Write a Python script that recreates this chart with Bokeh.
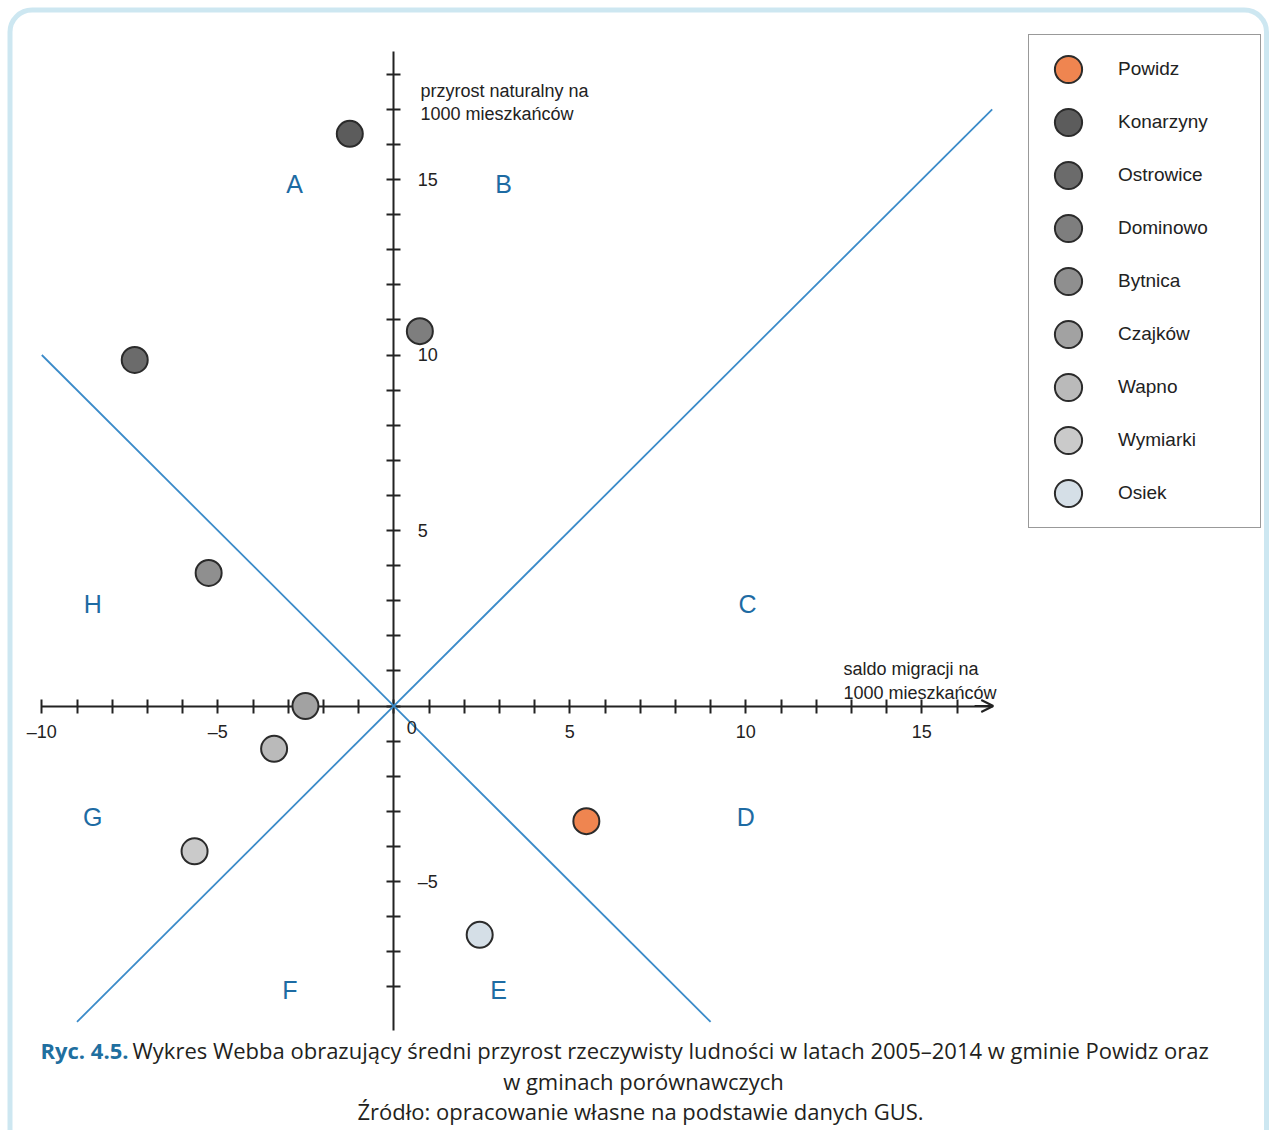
from bokeh.plotting import figure
from bokeh.models import (Range1d, LinearAxis, FixedTicker, Legend, LegendItem, Label,
                          BoxAnnotation, Arrow, OpenHead, ColumnDataSource)
from bokeh.core.properties import value
from bokeh.embed import file_html
from bokeh.resources import INLINE

# ---------------- data ----------------
names = ["Powidz", "Konarzyny", "Ostrowice", "Dominowo", "Bytnica",
         "Czajków", "Wapno", "Wymiarki", "Osiek"]
migration = [5.47, -1.25, -7.36, 0.74, -5.26, -2.51, -3.40, -5.66, 2.44]   # saldo migracji
natural = [-3.28, 16.30, 9.86, 10.68, 3.79, 0.0, -1.22, -4.14, -6.52]       # przyrost naturalny
colors = ["#ef8550", "#5c5c5c", "#6b6b6b", "#7e7e7e", "#8f8f8f",
          "#a2a2a2", "#bababa", "#cacaca", "#d5dfe7"]

x_ticks = list(range(-10, 17))
y_ticks = list(range(-8, 19))
x_tick_labels = {-10: "–10", -5: "–5", 5: "5", 10: "10", 15: "15"}
y_tick_labels = {-5: "–5", 5: "5", 10: "10", 15: "15"}

quadrants = ["A", "B", "C", "D", "E", "F", "G", "H"]
quad_x = [-2.82, 3.12, 10.05, 10.0, 2.98, -2.95, -8.55, -8.55]
quad_y = [14.88, 14.88, 2.9, -3.15, -8.1, -8.1, -3.15, 2.9]

diag_up_x = [-9, 17]
diag_up_y = [-9, 17]
diag_down_x = [-10, 9]
diag_down_y = [10, -9]

# ---------------- layout helpers (picture px -> data) ----------------
W, H = 1271, 1130
SX, SY = 35.2, 35.1
OX, OY = 393.3, 705.5          # origin in canvas px
x0 = -OX / SX
x1 = (W - OX) / SX
y1 = OY / SY
y0 = -(H - OY) / SY


def X(px):
    return (px - OX) / SX


def Y(py):
    return (OY - py) / SY


p = figure(width=W, height=H, x_range=Range1d(x0, x1), y_range=Range1d(y0, y1),
           output_backend="svg", toolbar_location=None,
           x_axis_type=None, y_axis_type=None, min_border=0,
           outline_line_color=None, background_fill_color="white",
           border_fill_color="white")
p.min_border_left = p.min_border_right = p.min_border_top = p.min_border_bottom = 0

AX = "#222222"
LBL_FONT = "Liberation Sans"

# rounded frame
frame = BoxAnnotation(left=X(9.5), right=X(1266), top=Y(9.5), bottom=Y(1160),
                      fill_alpha=0, line_color="#5aaed2", line_width=5,
                      border_radius=22, level="underlay")
p.add_layout(frame)

# axes crossing at origin
xaxis = LinearAxis(fixed_location=0,
                   ticker=FixedTicker(ticks=x_ticks, minor_ticks=[]),
                   major_label_overrides={t: x_tick_labels.get(t, "") for t in x_ticks},
                   bounds=(-10, 17), axis_line_width=2, axis_line_color=AX,
                   major_tick_in=7, major_tick_out=7, major_tick_line_width=2,
                   major_tick_line_color=AX, major_label_standoff=9,
                   major_label_text_font=LBL_FONT, major_label_text_font_size="18px",
                   major_label_text_color=AX, level="underlay")
p.add_layout(xaxis, "below")

yaxis = LinearAxis(fixed_location=0,
                   ticker=FixedTicker(ticks=y_ticks, minor_ticks=[]),
                   major_label_overrides={t: y_tick_labels.get(t, "") for t in y_ticks},
                   bounds=(-9.25, 18.65), axis_line_width=2, axis_line_color=AX,
                   major_tick_in=7, major_tick_out=7, major_tick_line_width=2,
                   major_tick_line_color=AX, major_label_standoff=17,
                   major_label_text_font=LBL_FONT, major_label_text_font_size="18px",
                   major_label_text_color=AX, level="underlay")
p.add_layout(yaxis, "right")

p.add_layout(Label(x=0, y=0, text="0", x_offset=18, y_offset=-21,
                   text_align="center", text_baseline="middle",
                   text_font=LBL_FONT, text_font_size="18px", text_color=AX))

p.add_layout(Arrow(end=OpenHead(size=12, line_width=2, line_color=AX),
                   x_start=16.5, y_start=0, x_end=17.03, y_end=0,
                   line_width=2, line_color=AX))

# axis titles
for txt, px, py in [("przyrost naturalny na", 420, 90), ("1000 mieszkańców", 420, 113),
                    ("saldo migracji na", 843, 668), ("1000 mieszkańców", 843, 692)]:
    p.add_layout(Label(x=X(px), y=Y(py), text=txt, text_align="left",
                       text_baseline="alphabetic", text_font=LBL_FONT,
                       text_font_size="18px", text_color=AX))

# Webb diagonals
p.line(diag_up_x, diag_up_y, line_color="#3b8bc9", line_width=1.8)
p.line(diag_down_x, diag_down_y, line_color="#3b8bc9", line_width=1.8)

# quadrant letters
p.text(x=quad_x, y=quad_y, text=quadrants, text_font=value(LBL_FONT),
       text_font_size="25px", text_align="center", text_baseline="middle",
       text_color="#1d6ba3")

# points (circles of fixed screen diameter)
src = ColumnDataSource(dict(x=migration, y=natural, name=names, color=colors))
r = p.ellipse(x="x", y="y", width=26, height=26, width_units="screen",
              height_units="screen", source=src, fill_color="color",
              line_color="#2b2b2b", line_width=2)

legend = Legend(items=[LegendItem(label=n, renderers=[r], index=i) for i, n in enumerate(names)],
                location=(1028, 602), glyph_width=44, glyph_height=34, spacing=19,
                padding=17, margin=0, label_standoff=28, label_width=125,
                label_text_font=LBL_FONT, label_text_font_size="19px",
                label_text_color=AX, border_line_color="#333333",
                border_line_width=1.5, background_fill_color="white",
                background_fill_alpha=1)
p.add_layout(legend)

# caption
CAP_FONT = "Open Sans"
CAP_SIZE = "22px"
p.add_layout(Label(x=X(40), y=Y(1049), text="Ryc. 4.5.", text_align="left",
                   text_baseline="middle", text_font=CAP_FONT, text_font_style="bold",
                   text_font_size=CAP_SIZE, text_color="#1f6f9f"))
p.add_layout(Label(x=X(132), y=Y(1049),
                   text="Wykres Webba obrazujący średni przyrost rzeczywisty ludności w latach 2005–2014 w gminie Powidz oraz",
                   text_align="left", text_baseline="middle", text_font=CAP_FONT,
                   text_font_size=CAP_SIZE, text_color="#231f20"))
p.add_layout(Label(x=X(643), y=Y(1080), text="w gminach porównawczych",
                   text_align="center", text_baseline="middle", text_font=CAP_FONT,
                   text_font_size=CAP_SIZE, text_color="#231f20"))
p.add_layout(Label(x=X(640), y=Y(1110),
                   text="Źródło: opracowanie własne na podstawie danych GUS.",
                   text_align="center", text_baseline="middle", text_font=CAP_FONT,
                   text_font_size=CAP_SIZE, text_color="#231f20"))

open("out.html", "w").write(file_html(p, INLINE))
